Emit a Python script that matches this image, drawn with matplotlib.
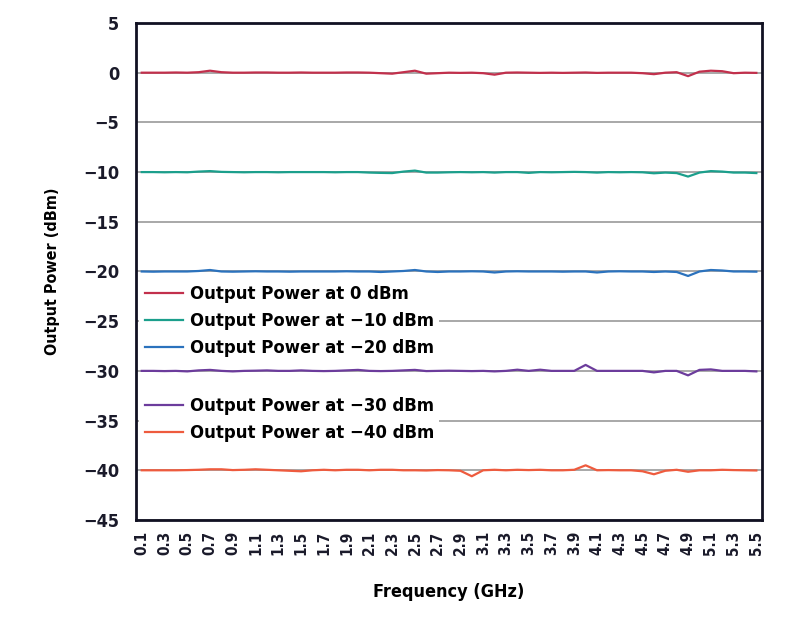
import matplotlib
matplotlib.use("Agg")
import matplotlib.pyplot as plt

# Frequency points, 0.1 GHz step (categorical axis, every other one labelled)
freqs = [round(0.1 + 0.1 * i, 1) for i in range(55)]

series_labels = [
    "Output Power at 0 dBm",
    "Output Power at \u221210 dBm",
    "Output Power at \u221220 dBm",
    "Output Power at \u221230 dBm",
    "Output Power at \u221240 dBm",
]

p_0 = [0.0, 0.0, 0.0, 0.02, 0.0, 0.05, 0.2, 0.05, 0.0, 0.0, 0.02, 0.02, 0.0, 0.0,
       0.02, 0.0, 0.0, 0.0, 0.02, 0.02, 0.0, -0.05, -0.1, 0.05, 0.2, -0.1, -0.05, 0.0,
       -0.02, 0.0, -0.05, -0.2, 0.0, 0.02, 0.0, -0.02, 0.0, -0.02, 0.0, 0.02, -0.02,
       0.0, 0.0, 0.0, -0.05, -0.15, 0.0, 0.05, -0.35, 0.1, 0.2, 0.15, -0.05, 0.0, -0.02]

p_10 = [-10.0, -10.0, -10.02, -10.0, -10.02, -9.95, -9.9, -9.98, -10.0, -10.02, -10.0,
        -10.0, -10.02, -10.0, -10.0, -10.0, -10.0, -10.02, -10.0, -10.0, -10.05, -10.08,
        -10.1, -9.95, -9.85, -10.05, -10.05, -10.02, -10.0, -10.02, -10.0, -10.05, -10.0,
        -10.0, -10.08, -10.0, -10.02, -10.0, -9.98, -10.0, -10.05, -10.0, -10.02, -10.0,
        -10.02, -10.12, -10.05, -10.1, -10.45, -10.05, -9.9, -9.95, -10.05, -10.05, -10.1]

p_20 = [-20.0, -20.02, -20.0, -20.0, -20.0, -19.95, -19.85, -20.0, -20.02, -20.0, -19.98,
        -20.0, -20.0, -20.02, -20.0, -20.0, -20.0, -20.0, -19.98, -20.0, -20.0, -20.05,
        -20.0, -19.95, -19.85, -20.0, -20.05, -20.0, -20.0, -19.98, -20.0, -20.1, -20.0,
        -19.98, -20.0, -20.0, -20.0, -20.02, -20.0, -20.0, -20.1, -20.0, -19.98, -20.0,
        -20.0, -20.05, -20.0, -20.05, -20.45, -20.0, -19.85, -19.9, -20.0, -20.0, -20.02]

p_30 = [-30.0, -30.0, -30.02, -30.0, -30.05, -29.95, -29.9, -30.0, -30.05, -30.0, -29.98,
        -29.95, -30.0, -30.0, -29.95, -30.0, -30.02, -30.0, -29.95, -29.9, -30.0, -30.02,
        -30.0, -29.95, -29.9, -30.02, -30.0, -29.98, -30.0, -30.02, -30.0, -30.05, -30.0,
        -29.88, -30.0, -29.88, -30.0, -30.0, -30.0, -29.4, -30.0, -30.0, -30.0, -30.0,
        -30.0, -30.15, -30.0, -30.0, -30.45, -29.9, -29.85, -30.0, -30.0, -30.0, -30.05]

p_40 = [-40.0, -40.0, -40.0, -40.0, -39.98, -39.95, -39.9, -39.9, -39.98, -39.95, -39.9,
        -39.95, -40.0, -40.05, -40.1, -40.0, -39.95, -40.0, -39.95, -39.95, -40.0, -39.95,
        -39.95, -40.0, -40.0, -40.02, -39.98, -40.0, -40.05, -40.6, -40.0, -39.95, -40.0,
        -39.95, -39.98, -39.95, -40.0, -40.0, -39.95, -39.5, -40.0, -39.98, -40.0, -40.0,
        -40.1, -40.4, -40.05, -39.95, -40.15, -40.0, -40.0, -39.95, -39.98, -40.0, -40.02]

colors = ["#c2304c", "#1b9f8c", "#2b72bd", "#6c3c9c", "#ee5b3e"]

FONT = "DejaVu Sans"

fig = plt.figure(figsize=(7.9, 6.18), dpi=100)
ax = fig.add_axes([0.1722, 0.1586, 0.7924, 0.8042])

x = list(range(len(freqs)))
handles = []
for vals, lab, col in zip([p_0, p_10, p_20, p_30, p_40], series_labels, colors):
    (h,) = ax.plot(x, vals, color=col, linewidth=1.6, label=lab, zorder=3)
    handles.append(h)

ax.set_xlim(-0.5, len(freqs) - 0.5)
ax.set_ylim(-45, 5)
ax.set_yticks(range(-45, 6, 5))
ax.set_yticklabels([str(v).replace("-", "\u2212") for v in range(-45, 6, 5)],
                   fontsize=13, fontweight="bold", family=FONT, fontstretch="condensed")
ax.set_xticks(x[::2])
ax.set_xticklabels([f"{f:.1f}" for f in freqs[::2]], rotation=90,
                   fontsize=11, fontweight="bold", family=FONT, fontstretch="condensed")
ax.tick_params(axis="both", length=0, colors="#1a1a2a")
ax.tick_params(axis="y", pad=12)
ax.tick_params(axis="x", pad=8)

ax.grid(axis="y", color="#a8a8a8", linewidth=1.4, zorder=0.5)
ax.set_axisbelow(True)
for s in ax.spines.values():
    s.set_color("#111122")
    s.set_linewidth(2)

ax.set_ylabel("Output Power (dBm)", fontsize=11.5, fontweight="bold", family=FONT,
              fontstretch="condensed", labelpad=17)
ax.set_xlabel("Frequency (GHz)", fontsize=13, fontweight="bold", family=FONT,
              fontstretch="condensed", labelpad=20)

legend_font = dict(family=FONT, weight="bold", size=13.2, stretch="condensed")
leg_style = dict(loc="upper left", prop=legend_font, frameon=True, facecolor="white",
                 edgecolor="none", framealpha=1, fancybox=False, borderpad=0.3,
                 borderaxespad=0, handlelength=2.1, handletextpad=0.35, labelspacing=0.5)
leg1 = ax.legend(handles=handles[:3], bbox_to_anchor=(0.005, 0.484), **leg_style)
leg1.set_zorder(2.5)
ax.add_artist(leg1)
leg2 = ax.legend(handles=handles[3:], bbox_to_anchor=(0.005, 0.258), **leg_style)
leg2.set_zorder(2.5)

fig.savefig("out.png", dpi=100)
plt.close(fig)
